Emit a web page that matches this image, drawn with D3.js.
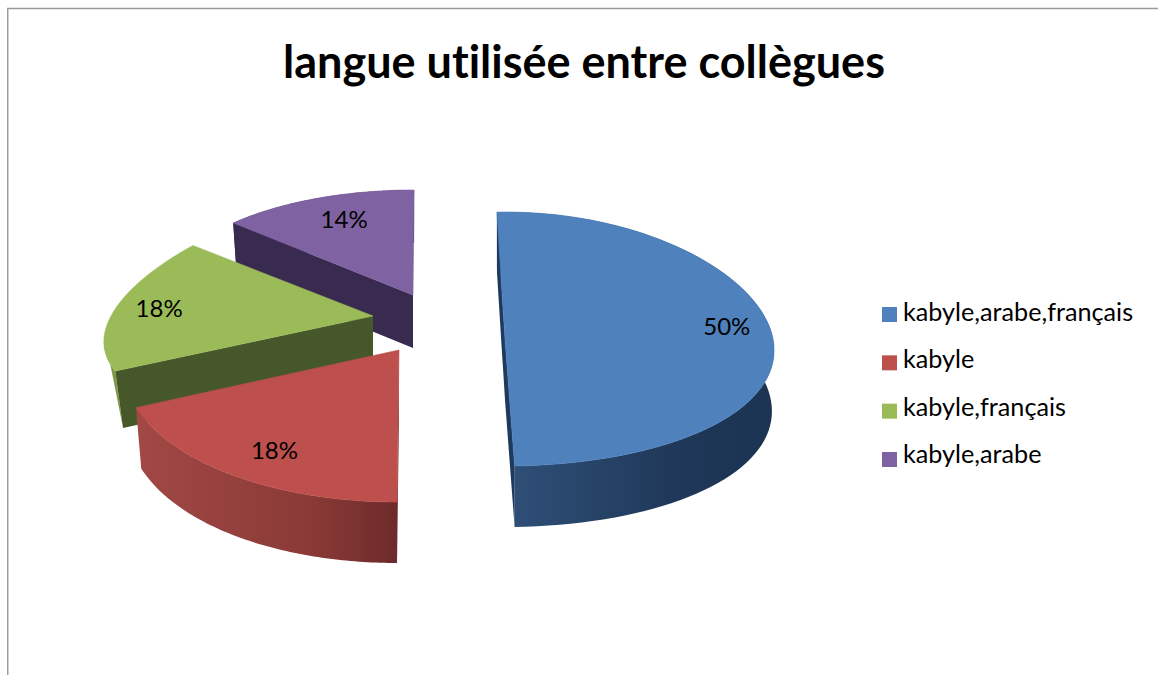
<!DOCTYPE html>
<html lang="fr">
<head>
    <meta charset="UTF-8">
    <title>langue utilisée entre collègues</title>
    <style>
        html, body { margin: 0; padding: 0; background: #fff; }
        svg { display: block; }
        text { font-family: Lato, "Open Sans", sans-serif; fill: #000; font-variant-ligatures: none; }
    </style>
</head>
<body>
    <script src="https://d3js.org/d3.v7.min.js"></script>
    <script>
        // Chart data
        const title = "langue utilisée entre collègues";
        const categories = ["kabyle,arabe,français", "kabyle", "kabyle,français", "kabyle,arabe"];
        const values = [50, 18, 18, 14];

        // Colours: top face, cut face, outer wall gradient
        const topColors = ["#4f81bd", "#bd4f4c", "#9bbb59", "#7f62a1"];
        const cutColors = ["#1f3a5f", "#6e2a2a", "#46582a", "#392a50"];
        const wallStops = [
            ["#31517a", "#274468", "#1f3758", "#1c3452"],
            ["#a24845", "#96413d", "#8a3a36", "#6e2b2b"],
            ["#8aa64e", "#7f9a44", "#7f9a44", "#7f9a44"],
            ["#392a50", "#392a50", "#392a50", "#392a50"]
        ];

        // How each exploded slice sits on the page (fake 3D projection)
        // cuts: which cut faces show (start edge, end edge), fan: wall is only a sliver near the start edge
        const views = [
            {cx: 505, cy: 339, rx: 268, ry: 127, taper: 0.09, skew: 0, rot: 0, stretch: 1, depth: 61, shrink: 0.008, lx: 8, ly: -9, cuts: [true, true], fan: 0},
            {cx: 399, cy: 350, rx: 277.6, ry: 152, taper: 0.055, skew: -2, rot: 1.9, stretch: 1.045, depth: 61, shrink: 0.02, lx: 5, ly: 0, cuts: [true, false], fan: 0},
            {cx: 373, cy: 316, rx: 262, ry: 118, taper: 0.24, skew: 0, rot: -0.7, stretch: 0.995, depth: 57, shrink: 0.03, lx: -8, ly: 0, cuts: [true, false], fan: 0.3},
            {cx: 413, cy: 295, rx: 248, ry: 105, taper: 0, skew: -1, rot: 5.6, stretch: 0.927, depth: 53, shrink: 0.02, lx: 9, ly: 2, cuts: [true, false], fan: 0}
        ];

        const width = 1158, height = 675;
        const rad = d3.scaleLinear().domain([0, 360]).range([0, 2 * Math.PI]);

        const svg = d3.select("body").append("svg")
            .attr("width", width)
            .attr("height", height);
        const defs = svg.append("defs");

        // Frame of the pasted picture
        svg.append("path")
            .attr("d", "M1158,8.5H7.75V675")
            .attr("fill", "none")
            .attr("stroke", "#999")
            .attr("stroke-width", 1.4);

        svg.append("text")
            .attr("x", 584)
            .attr("y", 78)
            .attr("text-anchor", "middle")
            .attr("font-size", 45)
            .attr("font-weight", 700)
            .text(title);

        const pie = d3.pie().sort(null)
            .startAngle(rad(-1.9))
            .endAngle(rad(358.1));
        const slices = pie(values);
        const line = d3.line();

        // Project an angle (radians) and radius fraction of one slice to the page
        function project(v, a, f) {
            const X = Math.sin(a) * f, Y = -Math.cos(a) * f;
            return [v.cx + v.rx * X * (1 + v.taper * Y) + v.skew * Y, v.cy + v.ry * Y];
        }
        function lower(v, p) {
            return [v.cx + (p[0] - v.cx) * (1 - v.shrink), p[1] + v.depth];
        }

        const pieGroup = svg.append("g");
        const order = [3, 2, 1, 0];

        order.forEach(function(i) {
            const s = slices[i], v = views[i];
            const a0 = s.startAngle + rad(v.rot);
            const a1 = a0 + (s.endAngle - s.startAngle) * v.stretch;
            const angle = d3.scaleLinear().domain([0, 80]).range([a0, a1]);
            const arc = d3.range(0, 81).map(function(t) { return project(v, angle(t), 1); });
            const apex = [v.cx, v.cy];
            const first = arc[0], last = arc[arc.length - 1];

            const xs = d3.extent(arc, function(p) { return p[0]; });
            const gradId = "wall" + i;
            const stops = wallStops[i];
            const offset = d3.scaleLinear().domain([0, stops.length - 1]).range([0, 1]);
            const grad = defs.append("linearGradient")
                .attr("id", gradId)
                .attr("gradientUnits", "userSpaceOnUse")
                .attr("x1", i === 0 ? first[0] : xs[0]).attr("y1", 0)
                .attr("x2", i === 0 ? xs[1] : first[0]).attr("y2", 0);
            grad.selectAll("stop").data(stops).enter().append("stop")
                .attr("offset", function(d, j) { return offset(j); })
                .attr("stop-color", function(d) { return d; });

            const g = pieGroup.append("g");

            // outer wall
            const wall = v.fan
                ? arc.slice(0, Math.round(arc.length * v.fan)).concat([lower(v, first)])
                : arc.concat(arc.map(function(p) { return lower(v, p); }).reverse());
            g.append("path")
                .attr("d", line(wall) + "Z")
                .attr("fill", "url(#" + gradId + ")");

            // cut faces
            [first, last].forEach(function(corner, k) {
                if (!v.cuts[k]) return;
                g.append("path")
                    .attr("d", line([corner, apex, lower(v, apex), lower(v, corner)]) + "Z")
                    .attr("fill", cutColors[i]);
            });

            // top face
            g.append("path")
                .attr("d", line([apex].concat(arc)) + "Z")
                .attr("fill", topColors[i])
                .attr("stroke", topColors[i])
                .attr("stroke-width", 0.6);
        });

        // Percent labels, placed on the slice's middle angle
        svg.append("g").selectAll("text")
            .data(slices)
            .enter().append("text")
            .attr("text-anchor", "middle")
            .attr("font-size", 24)
            .attr("x", function(d, i) {
                const v = views[i];
                const mid = d.startAngle + rad(v.rot) + (d.endAngle - d.startAngle) * v.stretch / 2;
                return project(v, mid, 0.8)[0] + v.lx;
            })
            .attr("y", function(d, i) {
                const v = views[i];
                const mid = d.startAngle + rad(v.rot) + (d.endAngle - d.startAngle) * v.stretch / 2;
                return project(v, mid, 0.8)[1] + v.ly + 8;
            })
            .text(function(d) { return d.value + "%"; });

        // Legend
        const legendY = d3.scalePoint().domain(categories).range([307, 452]);
        const legendText = d3.scalePoint().domain(categories).range([321, 463]);
        const legend = svg.append("g");
        legend.selectAll("rect")
            .data(categories)
            .enter().append("rect")
            .attr("x", 882)
            .attr("y", function(d) { return legendY(d); })
            .attr("width", 15)
            .attr("height", 15)
            .attr("fill", function(d, i) { return topColors[i]; });
        legend.selectAll("text")
            .data(categories)
            .enter().append("text")
            .attr("x", 903)
            .attr("y", function(d) { return legendText(d); })
            .attr("font-size", 25.2)
            .text(function(d) { return d; });
    </script>
</body>
</html>
